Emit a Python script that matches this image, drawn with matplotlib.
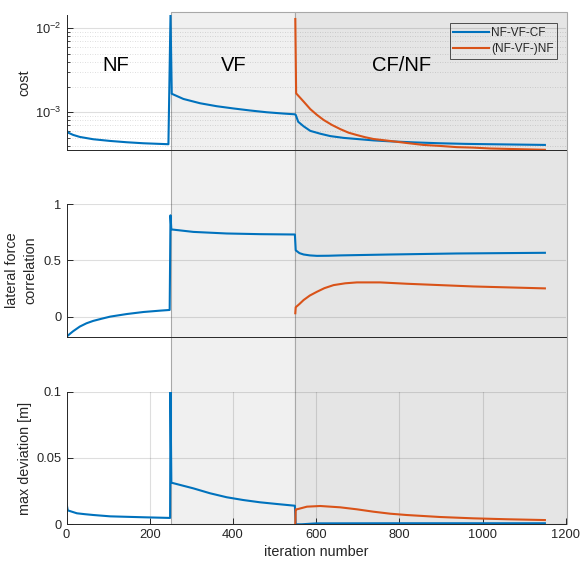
import matplotlib
matplotlib.use("Agg")
import matplotlib.pyplot as plt
from matplotlib.patches import Rectangle
from matplotlib.transforms import blended_transform_factory
from matplotlib.ticker import LogLocator, NullFormatter, FixedLocator

plt.rcParams['font.family'] = ['Liberation Sans', 'DejaVu Sans']
plt.rcParams['mathtext.fontset'] = 'custom'
plt.rcParams['mathtext.rm'] = 'Liberation Sans'
plt.rcParams['mathtext.default'] = 'regular'

# ---- data ----
series_names = ["NF-VF-CF", "(NF-VF-)NF"]
phase_names = ["NF", "VF", "CF/NF"]
phase_bounds = [0, 250, 550, 1204]

cost_a_x = [0, 4, 16, 32, 64, 105, 145, 185, 245, 250, 253, 281, 321, 361,
            401, 441, 481, 521, 549, 551, 557, 570, 586, 610, 634, 666, 698,
            738, 778, 838, 898, 958, 1018, 1150]
cost_a = [6.15e-4, 5.71e-4, 5.37e-4, 5.08e-4, 4.77e-4, 4.55e-4, 4.39e-4,
          4.27e-4, 4.16e-4, 1.44e-2, 1.66e-3, 1.44e-3, 1.28e-3, 1.18e-3,
          1.11e-3, 1.05e-3, 1.0e-3, 9.65e-4, 9.45e-4, 9.3e-4, 7.7e-4, 6.8e-4,
          6.0e-4, 5.55e-4, 5.2e-4, 4.95e-4, 4.8e-4, 4.62e-4, 4.5e-4, 4.37e-4,
          4.27e-4, 4.2e-4, 4.16e-4, 4.08e-4]
cost_b_x = [550, 552, 570, 586, 602, 618, 638, 658, 678, 698, 718, 738, 778,
            818, 858, 898, 938, 978, 1018, 1059, 1150]
cost_b = [1.29e-2, 1.68e-3, 1.34e-3, 1.09e-3, 9.3e-4, 8.1e-4, 7.06e-4, 6.3e-4,
          5.71e-4, 5.35e-4, 5.04e-4, 4.8e-4, 4.55e-4, 4.3e-4, 4.08e-4, 3.97e-4,
          3.84e-4, 3.79e-4, 3.7e-4, 3.66e-4, 3.57e-4]

corr_a_x = [0, 8, 16, 32, 48, 64, 85, 105, 145, 185, 225, 248, 250, 252, 305,
            385, 465, 549, 551, 560, 570, 585, 602, 630, 658, 778, 938, 1150]
corr_a = [-0.175, -0.150, -0.126, -0.085, -0.056, -0.035, -0.015, 0.003, 0.026,
          0.044, 0.056, 0.062, 0.90, 0.775, 0.753, 0.739, 0.733, 0.73, 0.59,
          0.565, 0.553, 0.545, 0.541, 0.542, 0.545, 0.553, 0.562, 0.568]
corr_b_x = [550, 551, 560, 570, 585, 602, 620, 642, 670, 698, 754, 818, 898,
            978, 1059, 1150]
corr_b = [0.033, 0.086, 0.115, 0.15, 0.19, 0.223, 0.255, 0.282, 0.298, 0.306,
          0.306, 0.294, 0.282, 0.27, 0.262, 0.253]

dev_a_x = [0, 3, 25, 45, 65, 105, 185, 249, 250, 252, 305, 345, 385, 425, 465,
           506, 549, 551, 565, 600, 800, 1000, 1150]
dev_a = [0.0158, 0.0105, 0.0083, 0.0076, 0.0070, 0.0060, 0.0053, 0.0048,
         0.100, 0.0314, 0.0271, 0.0234, 0.0204, 0.0183, 0.0166, 0.0153, 0.0140,
         0.0, 0.0, 0.0007, 0.0008, 0.0008, 0.0008]
dev_b_x = [550, 551, 554, 578, 610, 658, 698, 738, 778, 818, 898, 978, 1059,
           1150]
dev_b = [0.0, 0.0113, 0.0113, 0.0133, 0.0138, 0.0128, 0.0113, 0.0095, 0.0080,
         0.0070, 0.0055, 0.0045, 0.0038, 0.0032]

x_ticks = [0, 200, 400, 600, 800, 1000, 1200]

# ---- style ----
BLUE = '#0072BD'
ORANGE = '#D95319'
AX_COL = '#262626'
LW = 1.5
TICK_FS = 9.3
LABEL_FS = 10.4

W, H = 582, 569
fig = plt.figure(figsize=(W / 100, H / 100), dpi=100)


def frac_rect(left_px, top_px, right_px, bottom_px):
    return [left_px / W, 1 - bottom_px / H, (right_px - left_px) / W,
            (bottom_px - top_px) / H]


ax1 = fig.add_axes(frac_rect(66.5, 15, 565.7, 150))
ax2 = fig.add_axes(frac_rect(66.5, 204, 565.7, 337.3))
ax3 = fig.add_axes(frac_rect(66.5, 391.7, 565.7, 524.3))

grid_kw = dict(color=AX_COL, alpha=0.15, linewidth=0.8)

for ax in (ax1, ax2, ax3):
    ax.set_facecolor('none')
    ax.set_xlim(0, 1200)
    for s in ('top', 'right'):
        ax.spines[s].set_visible(False)
    for s in ('left', 'bottom'):
        ax.spines[s].set_color(AX_COL)
        ax.spines[s].set_linewidth(0.7)
    ax.tick_params(direction='in', colors=AX_COL, labelsize=TICK_FS,
                   length=4, width=0.7)
    ax.set_axisbelow(True)

# cost (log)
ax1.set_yscale('log')
ax1.plot(cost_a_x, cost_a, color=BLUE, lw=LW, label=series_names[0])
ax1.plot(cost_b_x, cost_b, color=ORANGE, lw=LW, label=series_names[1])
ax1.set_ylim(3.55e-4, 1.44e-2)
ax1.yaxis.set_major_locator(FixedLocator([1e-3, 1e-2]))
ax1.yaxis.set_minor_locator(LogLocator(base=10, subs=range(2, 10)))
ax1.yaxis.set_minor_formatter(NullFormatter())
ax1.tick_params(axis='y', which='minor', direction='in', length=2.5,
                width=0.6, colors=AX_COL)
ax1.set_xticks([])
ax1.grid(True, axis='y', which='major', **grid_kw)
ax1.grid(True, axis='y', which='minor', color=AX_COL, alpha=0.2,
         linewidth=0.6, linestyle=(0, (1, 2)))
ax1.set_ylabel('cost', fontsize=LABEL_FS, color=AX_COL)

# correlation
ax2.plot(corr_a_x, corr_a, color=BLUE, lw=LW)
ax2.plot(corr_b_x, corr_b, color=ORANGE, lw=LW)
ax2.set_ylim(-0.18, 1)
ax2.set_yticks([0, 0.5, 1])
ax2.set_yticklabels(['0', '0.5', '1'])
ax2.set_xticks([])
ax2.grid(True, axis='y', **grid_kw)
ax2.set_ylabel('lateral force\ncorrelation', fontsize=LABEL_FS, color=AX_COL,
               linespacing=1.45)

# max deviation
ax3.plot(dev_a_x, dev_a, color=BLUE, lw=LW)
ax3.plot(dev_b_x, dev_b, color=ORANGE, lw=LW)
ax3.set_ylim(0, 0.1)
ax3.set_yticks([0, 0.05, 0.1])
ax3.set_yticklabels(['0', '0.05', '0.1'])
ax3.set_xticks(x_ticks)
ax3.set_xticklabels([str(v) for v in x_ticks])
ax3.grid(True, **grid_kw)
ax3.set_ylabel('max deviation [m]', fontsize=LABEL_FS, color=AX_COL)
ax3.set_xlabel('iteration number', fontsize=LABEL_FS, color=AX_COL, labelpad=3)

ax1.yaxis.set_label_coords(-0.071, 0.5)
ax2.yaxis.set_label_coords(-0.058, 0.5)
ax3.yaxis.set_label_coords(-0.070, 0.5)

# phase shading across all panels
trans = blended_transform_factory(ax3.transData, fig.transFigure)
y_lo = 1 - 524.3 / H
y_hi = 1 - 11.7 / H
shade_cols = [None, '#f0f0f0', '#e5e5e5']
for i, col in enumerate(shade_cols):
    if col is None:
        continue
    fig.patches.append(Rectangle((phase_bounds[i], y_lo),
                                 phase_bounds[i + 1] - phase_bounds[i],
                                 y_hi - y_lo, transform=trans, facecolor=col,
                                 edgecolor='#a8a8a8', linewidth=0.8,
                                 zorder=-5))

# phase names
phase_x = [118, 402, 805]
for name, px in zip(phase_names, phase_x):
    ax1.text(px, 0.625, name, transform=ax1.get_xaxis_transform(),
             ha='center', va='center', fontsize=14.5, color='black')

leg = ax1.legend(loc='upper right', bbox_to_anchor=(0.983, 0.94),
                 fontsize=8.5, frameon=True, fancybox=False,
                 handlelength=3.0, handletextpad=0.2, borderpad=0.3,
                 labelspacing=0.38, borderaxespad=0)
leg.get_frame().set_facecolor('none')
leg.get_frame().set_edgecolor(AX_COL)
leg.get_frame().set_linewidth(0.7)
for t in leg.get_texts():
    t.set_color(AX_COL)

fig.savefig('out.png', dpi=100, facecolor='white')
